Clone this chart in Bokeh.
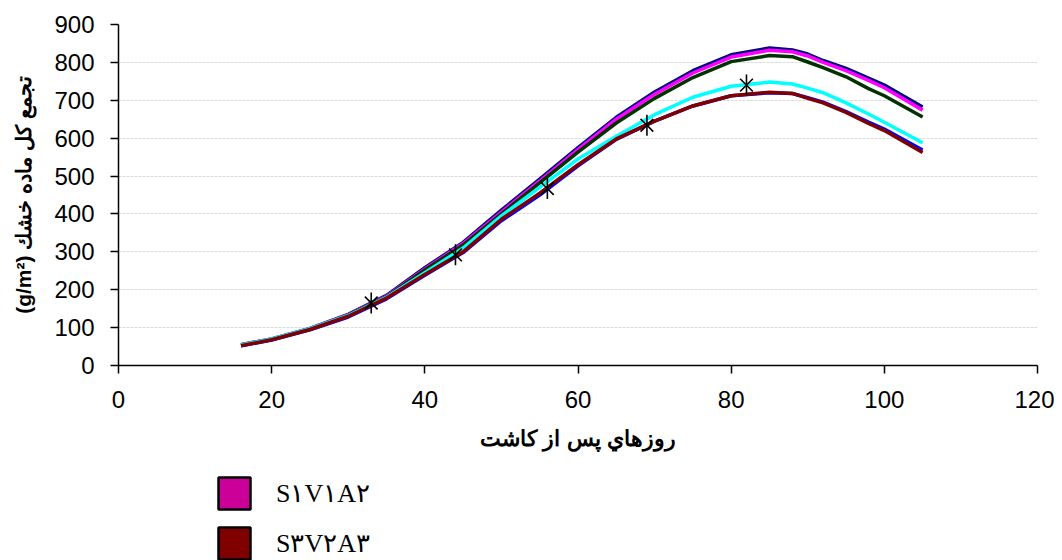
import math
from bokeh.plotting import figure
from bokeh.layouts import column
from bokeh.models import Legend, LegendItem, Range1d, FixedTicker
from bokeh.embed import file_html
from bokeh.resources import INLINE

# ---- data ----
days = [16, 20, 25, 30, 35, 40, 45, 50, 55, 60, 65, 70, 75, 80, 85, 88, 90, 92, 95, 98, 100, 105]

s_navy    = [55, 70, 98, 135, 185, 258, 325, 410, 492, 575, 655, 722, 778, 820, 838, 833, 822, 805, 784, 758, 740, 682]
s_magenta = [55, 70, 97, 134, 183, 255, 322, 405, 487, 570, 650, 716, 772, 814, 832, 828, 817, 800, 778, 752, 733, 674]
s_green   = [54, 69, 96, 133, 181, 252, 318, 400, 482, 563, 640, 705, 760, 802, 818, 815, 801, 786, 762, 730, 712, 656]
s_cyan    = [54, 70, 97, 132, 180, 245, 310, 395, 470, 545, 605, 662, 708, 737, 748, 743, 732, 720, 693, 663, 642, 588]
s_blue    = [52, 67, 94, 128, 176, 238, 298, 382, 450, 527, 597, 645, 685, 712, 720, 718, 707, 695, 670, 642, 624, 569]
s_maroon  = [52, 68, 95, 130, 178, 240, 300, 386, 455, 530, 598, 645, 685, 712, 721, 718, 705, 693, 668, 638, 620, 562]

obs_days = [33, 44, 56, 69, 82]
obs_vals = [165, 292, 467, 634, 740]

legend_labels = ["S۱V۱A۲", "S۳V۲A۳"]
legend_colors = ["#CC0099", "#800000"]

x_ticks = [0, 20, 40, 60, 80, 100, 120]
y_ticks = [0, 100, 200, 300, 400, 500, 600, 700, 800, 900]

x_title = "روزهاي پس از كاشت"
y_title = "(g/m²) تجمع كل ماده خشك"

# ---- main figure ----
p = figure(width=1054, height=462, output_backend="svg", toolbar_location=None,
           x_range=Range1d(0, 120), y_range=Range1d(0, 900),
           min_border_left=118, min_border_right=17, min_border_top=24,
           min_border_bottom=97)
p.outline_line_color = None
p.background_fill_color = "white"
p.border_fill_color = "white"

p.xgrid.grid_line_color = None
p.ygrid.grid_line_color = "#dadada"
p.ygrid.grid_line_width = 1
p.ygrid.grid_line_dash = "3 1"

p.xaxis.ticker = FixedTicker(ticks=x_ticks)
p.yaxis.ticker = FixedTicker(ticks=y_ticks)
for ax in (p.xaxis[0], p.yaxis[0]):
    ax.axis_line_color = "black"
    ax.axis_line_width = 1.5
    ax.major_tick_line_color = "black"
    ax.major_tick_line_width = 1.5
    ax.major_tick_in = 0
    ax.major_tick_out = 8
    ax.minor_tick_line_color = None
    ax.major_label_text_font = "Liberation Sans"
    ax.major_label_text_font_size = "24px"
    ax.major_label_text_color = "black"
    ax.axis_label_text_font = "Liberation Sans"
    ax.axis_label_text_font_style = "bold"
    ax.axis_label_text_color = "black"

p.xaxis.axis_label_text_font_size = "22px"
p.yaxis.axis_label_text_font_size = "21px"
p.xaxis.major_label_standoff = 17
p.yaxis.major_label_standoff = 16
p.xaxis.axis_label = x_title
p.yaxis.axis_label = y_title
p.xaxis.axis_label_standoff = 15
p.yaxis.axis_label_standoff = 16

series = [
    (s_blue, "#0000FF"),
    (s_navy, "#000080"),
    (s_magenta, "#FF00FF"),
    (s_green, "#003300"),
    (s_cyan, "#00FFFF"),
    (s_maroon, "#800000"),
]
for vals, col in series:
    p.line(days, vals, line_color=col, line_width=3.5)

# Excel-style star: an X plus a vertical bar
p.scatter(obs_days, obs_vals, marker="x", size=18, line_color="black", line_width=1.6)
p.scatter(obs_days, obs_vals, marker="dash", angle=math.pi / 2, size=21,
          line_color="black", line_width=1.6)

# ---- legend strip below ----
q = figure(width=1054, height=98, output_backend="svg", toolbar_location=None,
           x_range=Range1d(0, 1), y_range=Range1d(0, 1),
           x_axis_type=None, y_axis_type=None, min_border=0)
q.outline_line_color = None
q.grid.visible = False
q.border_fill_color = "white"

items = []
for lab, col in zip(legend_labels, legend_colors):
    # swatch renderer kept outside the visible range; only its legend glyph shows
    r = q.quad(left=[5], right=[6], bottom=[5], top=[6], fill_color=col,
               line_color="black", line_width=2.5)
    items.append(LegendItem(label=lab, renderers=[r]))

legend = Legend(items=items, location=(96, -3), orientation="vertical",
                glyph_width=40, glyph_height=40, spacing=10, label_standoff=22,
                label_text_font="Liberation Serif", label_text_font_size="26px",
                label_text_color="black",
                padding=0, margin=0, border_line_alpha=0, background_fill_alpha=0)
q.add_layout(legend)

layout = column(p, q, spacing=0)
open("out.html", "w").write(file_html(layout, INLINE))
